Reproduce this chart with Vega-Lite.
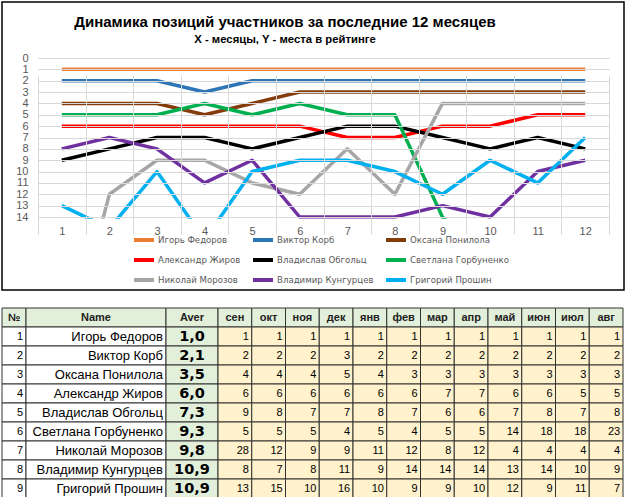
{
  "$schema": "https://vega.github.io/schema/vega-lite/v6.json",
  "padding": {"left": 1, "top": 1, "right": 0, "bottom": 0},
  "background": "white",
  "config": {
    "view": {"stroke": null},
    "font": "Liberation Sans",
    "locale": {"number": {"decimal": ",", "thousands": " ", "grouping": [3], "currency": ["", ""]}}
  },
  "datasets": {
    "people": [
      {"no": 1, "name": "Игорь Федоров", "aver": 1.0, "сен": 1, "окт": 1, "ноя": 1, "дек": 1, "янв": 1, "фев": 1, "мар": 1, "апр": 1, "май": 1, "июн": 1, "июл": 1, "авг": 1},
      {"no": 2, "name": "Виктор Корб", "aver": 2.1, "сен": 2, "окт": 2, "ноя": 2, "дек": 3, "янв": 2, "фев": 2, "мар": 2, "апр": 2, "май": 2, "июн": 2, "июл": 2, "авг": 2},
      {"no": 3, "name": "Оксана Понилола", "aver": 3.5, "сен": 4, "окт": 4, "ноя": 4, "дек": 5, "янв": 4, "фев": 3, "мар": 3, "апр": 3, "май": 3, "июн": 3, "июл": 3, "авг": 3},
      {"no": 4, "name": "Александр Жиров", "aver": 6.0, "сен": 6, "окт": 6, "ноя": 6, "дек": 6, "янв": 6, "фев": 6, "мар": 7, "апр": 7, "май": 6, "июн": 6, "июл": 5, "авг": 5},
      {"no": 5, "name": "Владислав Обгольц", "aver": 7.3, "сен": 9, "окт": 8, "ноя": 7, "дек": 7, "янв": 8, "фев": 7, "мар": 6, "апр": 6, "май": 7, "июн": 8, "июл": 7, "авг": 8},
      {"no": 6, "name": "Светлана Горбуненко", "aver": 9.3, "сен": 5, "окт": 5, "ноя": 5, "дек": 4, "янв": 5, "фев": 4, "мар": 5, "апр": 5, "май": 14, "июн": 18, "июл": 18, "авг": 23},
      {"no": 7, "name": "Николай Морозов", "aver": 9.8, "сен": 28, "окт": 12, "ноя": 9, "дек": 9, "янв": 11, "фев": 12, "мар": 8, "апр": 12, "май": 4, "июн": 4, "июл": 4, "авг": 4},
      {"no": 8, "name": "Владимир Кунгурцев", "aver": 10.9, "сен": 8, "окт": 7, "ноя": 8, "дек": 11, "янв": 9, "фев": 14, "мар": 14, "апр": 14, "май": 13, "июн": 14, "июл": 10, "авг": 9},
      {"no": 9, "name": "Григорий Прошин", "aver": 10.9, "сен": 13, "окт": 15, "ноя": 10, "дек": 16, "янв": 10, "фев": 9, "мар": 9, "апр": 10, "май": 12, "июн": 9, "июл": 11, "авг": 7}
    ],
    "months": [
      {"m": 1, "mon": "сен"}, {"m": 2, "mon": "окт"}, {"m": 3, "mon": "ноя"}, {"m": 4, "mon": "дек"},
      {"m": 5, "mon": "янв"}, {"m": 6, "mon": "фев"}, {"m": 7, "mon": "мар"}, {"m": 8, "mon": "апр"},
      {"m": 9, "mon": "май"}, {"m": 10, "mon": "июн"}, {"m": 11, "mon": "июл"}, {"m": 12, "mon": "авг"}
    ],
    "headers": [
      {"col": "no", "label": "№"},
      {"col": "name", "label": "Name"},
      {"col": "aver", "label": "Aver"}
    ]
  },
  "spacing": 16,
  "vconcat": [
    {
      "width": 622,
      "height": 288,
      "title": {
        "text": "Динамика позиций участников за последние 12 месяцев",
        "subtitle": "X - месяцы, Y - места в рейтинге",
        "anchor": "middle",
        "frame": "group",
        "orient": "top",
        "offset": -44,
        "dx": -28,
        "font": "Liberation Sans",
        "fontSize": 15,
        "fontWeight": "bold",
        "color": "#000000",
        "subtitleFont": "Liberation Sans",
        "subtitleFontSize": 11.3,
        "subtitleFontWeight": "bold",
        "subtitleColor": "#000000",
        "subtitlePadding": 4
      },
      "layer": [
        {
          "data": {"name": "people"},
          "transform": [
            {"fold": ["сен", "окт", "ноя", "дек", "янв", "фев", "мар", "апр", "май", "июн", "июл", "авг"], "as": ["mon", "rank"]},
            {"lookup": "mon", "from": {"data": {"name": "months"}, "key": "mon", "fields": ["m"]}}
          ],
          "mark": {"type": "line", "strokeWidth": 3.5, "clip": true, "strokeJoin": "round"},
          "encoding": {
            "x": {
              "field": "m",
              "type": "ordinal",
              "scale": {"type": "band", "domain": [1, 2, 3, 4, 5, 6, 7, 8, 9, 10, 11, 12], "range": [36, 607], "paddingInner": 0, "paddingOuter": 0},
              "axis": {"title": null, "tickBand": "extent", "grid": true, "gridColor": "#D9D9D9", "gridWidth": 1, "domain": false, "ticks": false, "labelAngle": 0, "offset": -65, "labelPadding": 0, "labelFontSize": 11, "labelFont": "Liberation Sans", "labelColor": "#595959", "zindex": 1}
            },
            "y": {
              "field": "rank",
              "type": "quantitative",
              "scale": {"domain": [0, 14], "range": [56, 215], "nice": false, "zero": false},
              "axis": {"title": null, "values": [0, 1, 2, 3, 4, 5, 6, 7, 8, 9, 10, 11, 12, 13, 14], "labelOverlap": false, "grid": true, "gridColor": "#D9D9D9", "gridWidth": 1, "domain": false, "ticks": false, "offset": -26, "labelPadding": 0, "labelFontSize": 11, "labelFont": "Liberation Sans", "labelColor": "#595959", "zindex": 1}
            },
            "color": {
              "field": "name",
              "type": "nominal",
              "scale": {
                "domain": ["Игорь Федоров", "Виктор Корб", "Оксана Понилола", "Александр Жиров", "Владислав Обгольц", "Светлана Горбуненко", "Николай Морозов", "Владимир Кунгурцев", "Григорий Прошин"],
                "range": ["#ED7D31", "#2E75B6", "#843C0C", "#FF0000", "#000000", "#00B050", "#A6A6A6", "#7030A0", "#00B0F0"]
              },
              "legend": {"title": null, "orient": "none", "legendX": 130, "legendY": 226, "direction": "horizontal", "columns": 3, "symbolType": "stroke", "symbolStrokeWidth": 4, "symbolSize": 400, "labelFontSize": 8.6, "labelFont": "DejaVu Sans", "labelColor": "#595959", "labelOffset": 2, "columnPadding": 4, "rowPadding": -3, "gridAlign": "each"}
            }
          }
        },
        {
          "data": {"name": "headers"},
          "transform": [{"filter": "datum.col == 'no'"}],
          "mark": {"type": "rect", "fill": "#FFFFFF"},
          "encoding": {
            "y": {
              "datum": 14.15,
              "type": "quantitative",
              "axis": {"title": null, "values": [0, 1, 2, 3, 4, 5, 6, 7, 8, 9, 10, 11, 12, 13, 14], "labelOverlap": false, "grid": true, "gridColor": "#D9D9D9", "gridWidth": 1, "domain": false, "ticks": false, "offset": -26, "labelPadding": 0, "labelFontSize": 11, "labelFont": "Liberation Sans", "labelColor": "#595959", "zindex": 1}
            },
            "y2": {"value": "height"}
          }
        },
        {
          "data": {"name": "headers"},
          "transform": [{"filter": "datum.col == 'no'"}],
          "mark": {"type": "rect", "filled": false, "stroke": "#000000", "strokeWidth": 1.5},
          "encoding": {}
        }
      ]
    },
    {
      "spacing": 0,
      "bounds": "flush",
      "hconcat": [
        {
          "width": 24,
          "height": 190,
          "layer": [
            {
              "data": {"name": "headers"},
              "transform": [{"filter": "datum.col == 'no'"}],
              "mark": {"type": "rect", "fill": "#E2EFDA", "stroke": "#333333", "strokeWidth": 1},
              "encoding": {"y": {"datum": "h", "type": "ordinal", "scale": {"type": "band", "domain": ["h", 1, 2, 3, 4, 5, 6, 7, 8, 9], "paddingInner": 0, "paddingOuter": 0}, "axis": null}}
            },
            {
              "data": {"name": "headers"},
              "transform": [{"filter": "datum.col == 'no'"}],
              "mark": {"type": "text", "font": "Liberation Sans", "fontSize": 11, "fontWeight": "bold", "color": "#222222"},
              "encoding": {"y": {"datum": "h", "type": "ordinal"}, "text": {"field": "label"}}
            },
            {
              "data": {"name": "people"},
              "mark": {"type": "rect", "fill": "#FFFFFF", "stroke": "#333333", "strokeWidth": 1},
              "encoding": {"y": {"field": "no", "type": "ordinal"}}
            },
            {
              "data": {"name": "people"},
              "mark": {"type": "text", "align": "right", "dx": 9, "font": "Liberation Sans", "fontSize": 11, "color": "#000000"},
              "encoding": {"y": {"field": "no", "type": "ordinal"}, "text": {"field": "no"}}
            }
          ]
        },
        {
          "width": 140,
          "height": 190,
          "layer": [
            {
              "data": {"name": "headers"},
              "transform": [{"filter": "datum.col == 'name'"}],
              "mark": {"type": "rect", "fill": "#E2EFDA", "stroke": "#333333", "strokeWidth": 1},
              "encoding": {"y": {"datum": "h", "type": "ordinal", "scale": {"type": "band", "domain": ["h", 1, 2, 3, 4, 5, 6, 7, 8, 9], "paddingInner": 0, "paddingOuter": 0}, "axis": null}}
            },
            {
              "data": {"name": "headers"},
              "transform": [{"filter": "datum.col == 'name'"}],
              "mark": {"type": "text", "font": "Liberation Sans", "fontSize": 11, "fontWeight": "bold", "color": "#222222"},
              "encoding": {"y": {"datum": "h", "type": "ordinal"}, "text": {"field": "label"}}
            },
            {
              "data": {"name": "people"},
              "mark": {"type": "rect", "fill": "#FFFFFF", "stroke": "#333333", "strokeWidth": 1},
              "encoding": {"y": {"field": "no", "type": "ordinal"}}
            },
            {
              "data": {"name": "people"},
              "mark": {"type": "text", "align": "right", "dx": 67, "font": "Liberation Sans", "fontSize": 13, "color": "#000000"},
              "encoding": {"y": {"field": "no", "type": "ordinal"}, "text": {"field": "name"}}
            }
          ]
        },
        {
          "width": 52,
          "height": 190,
          "layer": [
            {
              "data": {"name": "headers"},
              "transform": [{"filter": "datum.col == 'aver'"}],
              "mark": {"type": "rect", "fill": "#E2EFDA", "stroke": "#333333", "strokeWidth": 1},
              "encoding": {"y": {"datum": "h", "type": "ordinal", "scale": {"type": "band", "domain": ["h", 1, 2, 3, 4, 5, 6, 7, 8, 9], "paddingInner": 0, "paddingOuter": 0}, "axis": null}}
            },
            {
              "data": {"name": "headers"},
              "transform": [{"filter": "datum.col == 'aver'"}],
              "mark": {"type": "text", "font": "Liberation Sans", "fontSize": 11, "fontWeight": "bold", "color": "#222222"},
              "encoding": {"y": {"datum": "h", "type": "ordinal"}, "text": {"field": "label"}}
            },
            {
              "data": {"name": "people"},
              "mark": {"type": "rect", "fill": "#E2EFDA", "stroke": "#333333", "strokeWidth": 1},
              "encoding": {"y": {"field": "no", "type": "ordinal"}}
            },
            {
              "data": {"name": "people"},
              "mark": {"type": "text", "font": "DejaVu Sans", "fontSize": 14.5, "fontWeight": "bold", "color": "#000000"},
              "encoding": {"y": {"field": "no", "type": "ordinal"}, "text": {"field": "aver", "type": "quantitative", "format": ".1f"}}
            }
          ]
        },
        {
          "width": 405,
          "height": 190,
          "layer": [
            {
              "data": {"name": "months"},
              "mark": {"type": "rect", "fill": "#E2EFDA", "stroke": "#333333", "strokeWidth": 1},
              "encoding": {
                "x": {"field": "mon", "type": "ordinal", "scale": {"type": "band", "domain": ["сен", "окт", "ноя", "дек", "янв", "фев", "мар", "апр", "май", "июн", "июл", "авг"], "paddingInner": 0, "paddingOuter": 0}, "axis": null},
                "y": {"datum": "h", "type": "ordinal", "scale": {"type": "band", "domain": ["h", 1, 2, 3, 4, 5, 6, 7, 8, 9], "paddingInner": 0, "paddingOuter": 0}, "axis": null}
              }
            },
            {
              "data": {"name": "months"},
              "mark": {"type": "text", "font": "Liberation Sans", "fontSize": 11, "fontWeight": "bold", "color": "#222222"},
              "encoding": {"x": {"field": "mon", "type": "ordinal"}, "y": {"datum": "h", "type": "ordinal"}, "text": {"field": "mon"}}
            },
            {
              "data": {"name": "people"},
              "transform": [{"fold": ["сен", "окт", "ноя", "дек", "янв", "фев", "мар", "апр", "май", "июн", "июл", "авг"], "as": ["mon", "rank"]}],
              "mark": {"type": "rect", "fill": "#FFF2CC", "stroke": "#333333", "strokeWidth": 1},
              "encoding": {"x": {"field": "mon", "type": "ordinal"}, "y": {"field": "no", "type": "ordinal"}}
            },
            {
              "data": {"name": "people"},
              "transform": [{"fold": ["сен", "окт", "ноя", "дек", "янв", "фев", "мар", "апр", "май", "июн", "июл", "авг"], "as": ["mon", "rank"]}],
              "mark": {"type": "text", "align": "right", "dx": 14, "font": "Liberation Sans", "fontSize": 11, "color": "#000000"},
              "encoding": {"x": {"field": "mon", "type": "ordinal"}, "y": {"field": "no", "type": "ordinal"}, "text": {"field": "rank", "type": "quantitative"}}
            }
          ]
        }
      ]
    }
  ]
}
